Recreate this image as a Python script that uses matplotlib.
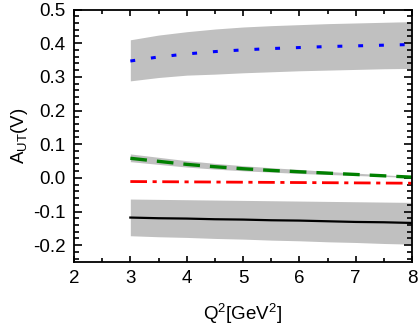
import numpy as np
import matplotlib
matplotlib.use("Agg")
import matplotlib.pyplot as plt
from matplotlib.ticker import MultipleLocator

plt.rcParams['font.family'] = ['Liberation Sans', 'DejaVu Sans']
plt.rcParams['mathtext.fontset'] = 'custom'
plt.rcParams['mathtext.rm'] = 'Liberation Sans'

Q2 = [3.0, 3.5, 4.0, 4.5, 5.0, 5.5, 6.0, 6.5, 7.0, 7.5, 8.0]

blue = [0.347, 0.359, 0.368, 0.375, 0.380, 0.384, 0.387, 0.390, 0.392, 0.394, 0.396]
blue_hi = [0.410, 0.424, 0.434, 0.442, 0.448, 0.452, 0.455, 0.458, 0.460, 0.462, 0.464]
blue_lo = [0.288, 0.298, 0.305, 0.308, 0.312, 0.315, 0.318, 0.320, 0.322, 0.324, 0.325]

green = [0.058, 0.049, 0.040, 0.033, 0.027, 0.022, 0.018, 0.014, 0.010, 0.006, 0.002]
green_hi = [0.071, 0.061, 0.051, 0.043, 0.036, 0.030, 0.025, 0.019, 0.014, 0.009, 0.004]
green_lo = [0.048, 0.040, 0.032, 0.026, 0.021, 0.017, 0.013, 0.010, 0.007, 0.004, 0.001]

red = [-0.011, -0.0115, -0.012, -0.0125, -0.013, -0.0135, -0.014, -0.0145, -0.015, -0.0155, -0.016]

black = [-0.118, -0.120, -0.121, -0.123, -0.124, -0.126, -0.127, -0.129, -0.131, -0.132, -0.134]
black_hi = [-0.063, -0.064, -0.065, -0.066, -0.067, -0.068, -0.069, -0.070, -0.071, -0.072, -0.073]
black_lo = [-0.172, -0.175, -0.177, -0.180, -0.182, -0.185, -0.187, -0.190, -0.192, -0.195, -0.197]

fig = plt.figure(figsize=(4.2, 3.27), dpi=100)
ax = fig.add_axes([74/420, 1 - 262/327, (412-74)/420, (262-9.5)/327])

band = '#c0c0c0'
ax.fill_between(Q2, blue_lo, blue_hi, color=band, lw=0)
ax.fill_between(Q2, green_lo, green_hi, color=band, lw=0)
ax.fill_between(Q2, black_lo, black_hi, color=band, lw=0)

ax.plot(Q2, blue, color='#0000ff', lw=2.2, dashes=(1.6, 5.2))
ax.plot(Q2, green, color='#008000', lw=2.4, dashes=(5.0, 3.0))
ax.plot(Q2, red, color='#ff0000', lw=2.0, dashes=(6.0, 2.0, 1.5, 2.0))
ax.plot(Q2, black, color='black', lw=1.6)

ax.set_xlim(2, 8)
ax.set_ylim(-0.25, 0.5)
ax.xaxis.set_major_locator(MultipleLocator(1))
ax.xaxis.set_minor_locator(MultipleLocator(0.5))
ax.yaxis.set_major_locator(MultipleLocator(0.1))
ax.yaxis.set_minor_locator(MultipleLocator(0.02))
ax.yaxis.set_major_formatter(matplotlib.ticker.FuncFormatter(lambda v, p: f"{v:.1f}" if abs(v) > 1e-9 else "0.0"))

ax.tick_params(which='both', direction='in', top=True, right=True, labelsize=13.5, width=1.2)
ax.tick_params(axis='y', which='major', length=6, pad=6)
ax.tick_params(axis='y', which='minor', length=3.5)
ax.tick_params(axis='x', which='major', length=4.5, pad=6)
ax.tick_params(axis='x', which='minor', length=3)
for s in ax.spines.values():
    s.set_linewidth(1.3)

ax.set_xlabel(r'Q$^{\mathregular{2}}$[GeV$^{\mathregular{2}}$]', fontsize=13.5, labelpad=10)
ax.set_ylabel(r'A$_{\mathregular{UT}}$(V)', fontsize=13.5, labelpad=2)

fig.savefig('out.png', dpi=100)
